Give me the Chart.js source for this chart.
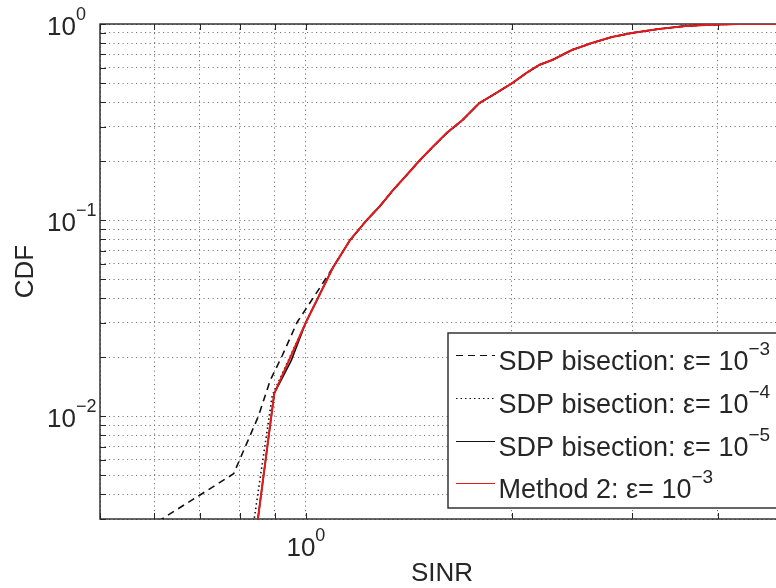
<!DOCTYPE html>
<html>
<head>
<meta charset="utf-8">
<script src="https://cdn.jsdelivr.net/npm/chart.js@4.4.1/dist/chart.umd.min.js"></script>
<style>
html, body { margin: 0; padding: 0; overflow: hidden; background: #fff; }
#wrap { position: relative; width: 790px; height: 588px; }
</style>
</head>
<body>
<div id="wrap"><canvas id="cdf-chart"></canvas></div>
<script>
// upper part, shared by all four curves
const tailSinr = [1.096, 1.160, 1.227, 1.283, 1.340, 1.404, 1.467, 1.532, 1.606, 1.694, 1.793, 1.898, 2.003, 2.099, 2.193, 2.291, 2.449, 2.619, 2.801, 2.996, 3.28, 3.589, 3.918, 4.29, 5.0];
const tailCdf  = [0.0576, 0.0791, 0.100, 0.118, 0.142, 0.170, 0.202, 0.236, 0.278, 0.324, 0.395, 0.445, 0.500, 0.562, 0.618, 0.655, 0.737, 0.800, 0.858, 0.900, 0.943, 0.977, 0.992, 1.0, 1.0];

// lower part of each curve
const bis3Sinr = [0.512, 0.784, 0.852, 0.887, 0.924, 0.971, 1.042];
const bis3Cdf  = [0.002, 0.0051, 0.0100, 0.0153, 0.0205, 0.0302, 0.0439];
const bis4Sinr = [0.826, 0.893, 1.0, 1.0376];
const bis4Cdf  = [0.002, 0.0128, 0.0302, 0.0391];
const bis5Sinr = [0.838, 0.899, 0.952, 1.0, 1.0376];
const bis5Cdf  = [0.002, 0.0131, 0.0193, 0.0302, 0.0391];
const meth2Sinr = [0.838, 0.899, 1.0, 1.0376];
const meth2Cdf  = [0.002, 0.0131, 0.0302, 0.0391];

const legendNames = ['SDP bisection: \u03b5= 10', 'SDP bisection: \u03b5= 10', 'SDP bisection: \u03b5= 10', 'Method 2: \u03b5= 10'];
const legendExps = [-3, -4, -5, -3];

const xMin = 0.5, xMax = 5;
const yMin = 0.003, yMax = 1;
const xLabelExps = [0];
const yLabelExps = [0, -1, -2];

// grid positions: 1..9 per decade
const xGrid = [0.5, 0.6, 0.7, 0.8, 0.9, 1, 2, 3, 4, 5];
const yGrid = [];
[-3, -2, -1].forEach(function (e) {
    for (let m = 1; m <= 9; m++) {
        const v = +(m * Math.pow(10, e)).toPrecision(3);
        if (v >= yMin) yGrid.push(v);
    }
});
yGrid.push(1);

function points(xs, ys) {
    return xs.map(function (x, i) { return { x: x, y: ys[i] }; });
}

const RED = 'rgb(228,26,28)';
const BLACK = '#111';
const TEXT = '#262626';
const FONT = 'Liberation Sans, Arial, Helvetica, sans-serif';

const styles = [
    { color: BLACK, dash: [7, 5], width: 1.6 },
    { color: BLACK, dash: [1.5, 3], width: 1.6 },
    { color: BLACK, dash: [], width: 1.6 },
    { color: RED, dash: [], width: 2 },
];

function drawPower(ctx, x, y, exp, mode, size) {
    const big = size || 26;
    const small = Math.round(big * 0.7);
    ctx.font = big + 'px ' + FONT;
    const wBase = ctx.measureText('10').width;
    const expText = exp < 0 ? '\u2212' + (-exp) : String(exp);
    ctx.font = small + 'px ' + FONT;
    const wExp = ctx.measureText(expText).width;
    let x0 = x;
    if (mode === 'center') x0 = x - (wBase + wExp) / 2;
    if (mode === 'right') x0 = x - wBase;
    ctx.textAlign = 'left';
    ctx.textBaseline = 'alphabetic';
    ctx.font = big + 'px ' + FONT;
    ctx.fillText('10', x0, y);
    ctx.font = small + 'px ' + FONT;
    ctx.fillText(expText, x0 + wBase, y - 15);
}

const matlabAxes = {
    id: 'matlabAxes',
    beforeDatasetsDraw(chart) {
        const ctx = chart.ctx;
        const a = chart.chartArea;
        const xs = chart.scales.x, ys = chart.scales.y;
        ctx.save();
        ctx.strokeStyle = TEXT;
        ctx.lineWidth = 1;
        // tick marks, pointing inwards
        ctx.beginPath();
        xGrid.forEach(function (v) {
            const px = Math.round(xs.getPixelForValue(v)) + 0.5;
            ctx.moveTo(px, a.bottom); ctx.lineTo(px, a.bottom - 6);
            ctx.moveTo(px, a.top); ctx.lineTo(px, a.top + 6);
        });
        yGrid.forEach(function (v) {
            const py = Math.round(ys.getPixelForValue(v)) + 0.5;
            ctx.moveTo(a.left, py); ctx.lineTo(a.left + 6, py);
        });
        ctx.stroke();
        // box
        ctx.lineWidth = 1.4;
        ctx.strokeRect(a.left, a.top, a.right - a.left, a.bottom - a.top);
        ctx.restore();
    },
    afterDraw(chart) {
        const ctx = chart.ctx;
        const a = chart.chartArea;
        const xs = chart.scales.x, ys = chart.scales.y;
        ctx.save();
        ctx.fillStyle = TEXT;

        xLabelExps.forEach(function (e) {
            drawPower(ctx, xs.getPixelForValue(Math.pow(10, e)), 556, e, 'center');
        });
        yLabelExps.forEach(function (e) {
            drawPower(ctx, 76, ys.getPixelForValue(Math.pow(10, e)) + 11, e, 'right');
        });

        // axis titles
        ctx.font = '26px ' + FONT;
        ctx.textAlign = 'center';
        ctx.textBaseline = 'alphabetic';
        ctx.fillText('SINR', (a.left + a.right) / 2, 581);
        ctx.translate(33, (a.top + a.bottom) / 2);
        ctx.rotate(-Math.PI / 2);
        ctx.fillText('CDF', 0, 0);
        ctx.setTransform(1, 0, 0, 1, 0, 0);

        // legend box
        const bx = 448, by = 333, bw = 330, bh = 175;
        ctx.fillStyle = '#fff';
        ctx.fillRect(bx, by, bw, bh);
        ctx.strokeStyle = TEXT;
        ctx.lineWidth = 1.4;
        ctx.strokeRect(bx, by, bw, bh);
        const baselines = [370, 413, 456, 498];
        legendNames.forEach(function (name, i) {
            const s = styles[i];
            const ly = baselines[i] - 14.5;
            ctx.strokeStyle = s.color;
            ctx.lineWidth = 1;
            ctx.setLineDash(s.dash);
            ctx.beginPath();
            ctx.moveTo(456, ly); ctx.lineTo(495, ly);
            ctx.stroke();
            ctx.setLineDash([]);
            ctx.fillStyle = TEXT;
            ctx.font = '27px ' + FONT;
            ctx.textAlign = 'left';
            const prefix = name.slice(0, -2);
            ctx.fillText(prefix, 498.5, baselines[i]);
            const w = ctx.measureText(prefix).width;
            drawPower(ctx, 498.5 + w, baselines[i], legendExps[i], 'left', 27);
        });
        ctx.restore();
    }
};

const gridOpts = { color: '#7a7a7a', lineWidth: 1, drawTicks: false };

new Chart(document.getElementById('cdf-chart'), {
    type: 'line',
    data: {
        datasets: [
            { data: points(bis3Sinr.concat(tailSinr), bis3Cdf.concat(tailCdf)), borderColor: styles[0].color, borderWidth: styles[0].width, borderDash: styles[0].dash, order: 3 },
            { data: points(bis4Sinr.concat(tailSinr), bis4Cdf.concat(tailCdf)), borderColor: styles[1].color, borderWidth: styles[1].width, borderDash: styles[1].dash, order: 2 },
            { data: points(bis5Sinr.concat(tailSinr), bis5Cdf.concat(tailCdf)), borderColor: styles[2].color, borderWidth: styles[2].width, order: 1 },
            { data: points(meth2Sinr.concat(tailSinr), meth2Cdf.concat(tailCdf)), borderColor: styles[3].color, borderWidth: styles[3].width, order: 0 },
        ],
    },
    options: {
        responsive: true,
        maintainAspectRatio: false,
        animation: false,
        layout: { padding: { left: 100, top: 24, right: 6, bottom: 69 } },
        elements: { point: { radius: 0 }, line: { tension: 0, fill: false } },
        plugins: { legend: { display: false }, tooltip: { enabled: false } },
        scales: {
            x: {
                type: 'logarithmic', min: xMin, max: xMax,
                afterBuildTicks: function (s) { s.ticks = xGrid.map(function (v) { return { value: v }; }); },
                afterFit: function (s) { s.height = 0; },
                ticks: { display: false },
                grid: gridOpts,
                border: { display: false, dash: [1.2, 3.3] },
            },
            y: {
                type: 'logarithmic', min: yMin, max: yMax,
                afterBuildTicks: function (s) { s.ticks = yGrid.map(function (v) { return { value: v }; }); },
                afterFit: function (s) { s.width = 0; },
                ticks: { display: false },
                grid: gridOpts,
                border: { display: false, dash: [1.2, 3.3] },
            },
        },
    },
    plugins: [matlabAxes],
});
</script>
</body>
</html>
